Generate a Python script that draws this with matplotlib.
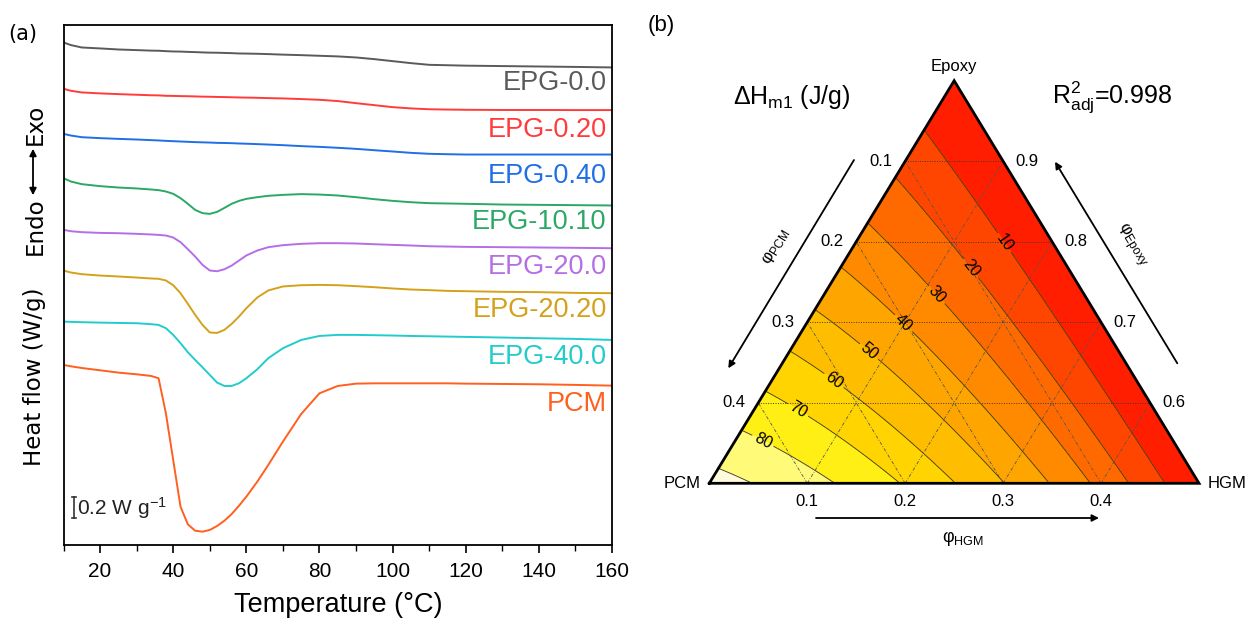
import numpy as np
import matplotlib
matplotlib.use("Agg")
import matplotlib.pyplot as plt
import matplotlib.tri as mtri

plt.rcParams['font.family'] = ['Liberation Sans', 'DejaVu Sans']
plt.rcParams['mathtext.fontset'] = 'custom'
plt.rcParams['mathtext.rm'] = 'Liberation Sans'
plt.rcParams['mathtext.it'] = 'Liberation Sans:italic'

# ---------------- (a) DSC heating curves ----------------
temperature = [10, 12, 15, 20, 25, 30, 34, 36, 38, 40, 42, 44, 46, 48, 50, 52, 54, 56,
               58, 60, 63, 66, 70, 75, 80, 85, 90, 95, 100, 105, 110, 115, 120, 130,
               140, 150, 160]

samples = ['EPG-0.0', 'EPG-0.20', 'EPG-0.40', 'EPG-10.10',
           'EPG-20.0', 'EPG-20.20', 'EPG-40.0', 'PCM']

# heat flow relative to the value at 10 degC (W/g)
hf_epg_0_0 = [0, -0.025, -0.048, -0.057, -0.067, -0.073, -0.078, -0.079, -0.083, -0.086,
              -0.087, -0.090, -0.092, -0.095, -0.097, -0.098, -0.100, -0.102, -0.105,
              -0.106, -0.108, -0.111, -0.116, -0.121, -0.127, -0.133, -0.143, -0.159,
              -0.178, -0.197, -0.213, -0.217, -0.221, -0.225, -0.229, -0.233, -0.238]
hf_epg_0_20 = [0, -0.019, -0.035, -0.044, -0.051, -0.057, -0.062, -0.063, -0.067, -0.068,
               -0.070, -0.071, -0.073, -0.075, -0.076, -0.078, -0.079, -0.081, -0.083,
               -0.084, -0.086, -0.089, -0.092, -0.098, -0.105, -0.117, -0.137, -0.156,
               -0.175, -0.187, -0.195, -0.198, -0.200, -0.202, -0.202, -0.203, -0.203]
hf_epg_0_40 = [0, -0.016, -0.032, -0.041, -0.048, -0.054, -0.060, -0.063, -0.067, -0.070,
               -0.073, -0.076, -0.079, -0.081, -0.083, -0.086, -0.087, -0.089, -0.092,
               -0.094, -0.098, -0.102, -0.108, -0.117, -0.124, -0.133, -0.143, -0.156,
               -0.168, -0.181, -0.190, -0.194, -0.197, -0.197, -0.197, -0.197, -0.197]
hf_epg_10_10 = [0, -0.032, -0.057, -0.076, -0.089, -0.098, -0.108, -0.114, -0.127, -0.149,
                -0.190, -0.244, -0.302, -0.333, -0.340, -0.321, -0.283, -0.244, -0.216,
                -0.197, -0.181, -0.168, -0.159, -0.152, -0.156, -0.165, -0.181, -0.200,
                -0.216, -0.229, -0.238, -0.241, -0.244, -0.251, -0.254, -0.257, -0.260]
hf_epg_20_0 = [0, -0.013, -0.022, -0.029, -0.032, -0.038, -0.044, -0.048, -0.054, -0.073,
               -0.117, -0.184, -0.254, -0.333, -0.387, -0.394, -0.375, -0.340, -0.292,
               -0.244, -0.197, -0.165, -0.146, -0.133, -0.127, -0.127, -0.130, -0.137,
               -0.143, -0.149, -0.156, -0.159, -0.162, -0.165, -0.168, -0.171, -0.175]
hf_epg_20_20 = [0, -0.019, -0.035, -0.048, -0.057, -0.067, -0.076, -0.079, -0.095, -0.140,
                -0.216, -0.317, -0.422, -0.517, -0.590, -0.594, -0.565, -0.508, -0.438,
                -0.359, -0.257, -0.190, -0.152, -0.140, -0.137, -0.140, -0.149, -0.159,
                -0.171, -0.181, -0.187, -0.194, -0.197, -0.203, -0.206, -0.213, -0.216]
hf_epg_40_0 = [0, -0.003, -0.006, -0.010, -0.013, -0.016, -0.025, -0.032, -0.063, -0.127,
               -0.206, -0.292, -0.365, -0.435, -0.508, -0.581, -0.613, -0.613, -0.587,
               -0.540, -0.454, -0.349, -0.254, -0.175, -0.137, -0.127, -0.127, -0.130,
               -0.133, -0.137, -0.140, -0.143, -0.146, -0.152, -0.159, -0.165, -0.175]
hf_pcm = [0, -0.013, -0.029, -0.051, -0.073, -0.089, -0.105, -0.127, -0.460, -0.905,
          -1.349, -1.517, -1.578, -1.587, -1.571, -1.533, -1.483, -1.419, -1.340,
          -1.254, -1.111, -0.952, -0.730, -0.467, -0.270, -0.200, -0.178, -0.175,
          -0.175, -0.175, -0.175, -0.175, -0.178, -0.181, -0.184, -0.190, -0.197]

heat_flows = [hf_epg_0_0, hf_epg_0_20, hf_epg_0_40, hf_epg_10_10,
              hf_epg_20_0, hf_epg_20_20, hf_epg_40_0, hf_pcm]

# vertical stacking of the curves (W/g) and of their labels
curve_offsets = [4.784, 4.343, 3.914, 3.492, 3.000, 2.613, 2.127, 1.714]
label_y = [4.395, 3.946, 3.517, 3.070, 2.651, 2.238, 1.787, 1.343]
curve_colors = ['#5a5a5a', '#ff3b3b', '#1f6fe5', '#2aa866',
                '#b46ee6', '#d4a11a', '#22cccc', '#ff5f1f']

scale_bar = 0.2  # W/g

W, H = 1247, 621
fig = plt.figure(figsize=(W / 100, H / 100), dpi=100)

ax = fig.add_axes([63.5 / W, 1 - 545 / H, (612 - 63.5) / W, (545 - 25) / H])
for name, hf, off, col, ly in zip(samples, heat_flows, curve_offsets, curve_colors, label_y):
    ax.plot(temperature, np.asarray(hf) + off, color=col, lw=1.4)
    ax.text(158.5, ly, name, color=col, fontsize=19.5, ha='right', va='center')

ax.set_xlim(10, 160)
ax.set_ylim(0, 4.95)
ax.set_xticks(np.arange(20, 161, 20))
ax.set_xticks(np.arange(10, 161, 20), minor=True)
ax.set_yticks([])
ax.tick_params(axis='x', which='major', direction='out', length=6, width=1.2,
               labelsize=15, pad=6)
ax.tick_params(axis='x', which='minor', direction='out', length=4, width=1.0)
for sp in ax.spines.values():
    sp.set_linewidth(1.3)
ax.set_xlabel('Temperature (°C)', fontsize=19.5, labelpad=8)

# scale bar
bar_x, bar_y0 = 12.8, 0.255
ax.plot([bar_x, bar_x], [bar_y0, bar_y0 + scale_bar], color='#333333', lw=1.2)
ax.plot([bar_x - 0.6, bar_x + 0.6], [bar_y0, bar_y0], color='#333333', lw=1.2)
ax.plot([bar_x - 0.6, bar_x + 0.6], [bar_y0 + scale_bar] * 2, color='#333333', lw=1.2)
ax.text(bar_x + 0.9, bar_y0 + scale_bar / 2, r'%.1f W g$^{-1}$' % scale_bar,
        fontsize=15, ha='left', va='center', color='#222222')

# y-axis labels
fig.text(35 / W, 1 - 377 / H, 'Heat flow (W/g)', rotation=90, fontsize=16.5,
         family='DejaVu Sans', ha='center', va='center')
fig.text(35 / W, 1 - 226 / H, 'Endo', rotation=90, fontsize=16.5,
         family='DejaVu Sans', ha='center', va='center')
fig.text(35 / W, 1 - 124 / H, 'Exo', rotation=90, fontsize=16.5,
         family='DejaVu Sans', ha='center', va='center')
fig.add_artist(matplotlib.patches.FancyArrowPatch(
    (33 / W, 1 - 198 / H), (33 / W, 1 - 146 / H), transform=fig.transFigure,
    arrowstyle='<|-|>', mutation_scale=10, lw=1.3, color='black'))

fig.text(8 / W, 1 - 34 / H, '(a)', fontsize=15, family='DejaVu Sans',
         ha='left', va='center')

# ---------------- (b) ternary contour of dHm1 ----------------
# Scheffe quadratic in pseudo-components: a = Epoxy (0.5-1), b = PCM (0-0.5), c = HGM (0-0.5)
scheffe_terms = ['a', 'b', 'c', 'ab', 'ac', 'bc']
scheffe_coef = [0.0, 94.0, 0.0, -14.0, 0.0, 53.0]
levels = [0, 10, 20, 30, 40, 50, 60, 70, 80, 90, 100]
band_colors = ['#ff1e00', '#ff4600', '#ff6a00', '#ff8a00', '#ffa500',
               '#ffbd00', '#ffd400', '#ffef14', '#fffa78', '#fffbdc']
labelled_levels = [10, 20, 30, 40, 50, 60, 70, 80]
axis_ticks = [0.1, 0.2, 0.3, 0.4]

hgt = np.sqrt(3) / 2
tx0, tx1, ty_base, ty_top = 709.3, 1199.0, 483.3, 80.7
tax = fig.add_axes([tx0 / W, 1 - ty_base / H, (tx1 - tx0) / W, (ty_base - ty_top) / H])
tax.set_xlim(0, 1)
tax.set_ylim(0, hgt)
tax.axis('off')


def to_xy(a, c):
    return c + a / 2.0, a * hgt


def px_to_data(px, py):
    return (px - tx0) / (tx1 - tx0), (ty_base - py) / (ty_base - ty_top) * hgt


n = 90
aa, cc = [], []
for i in range(n + 1):
    for j in range(n + 1 - i):
        aa.append(i / n)
        cc.append(j / n)
aa, cc = np.array(aa), np.array(cc)
bb = np.clip(1 - aa - cc, 0, 1)
term_vals = [aa, bb, cc, aa * bb, aa * cc, bb * cc]
dh = sum(k * t for k, t in zip(scheffe_coef, term_vals))
X, Y = to_xy(aa, cc)
tri = mtri.Triangulation(X, Y)

tax.tricontourf(tri, dh, levels=levels, colors=band_colors)
cs = tax.tricontour(tri, dh, levels=levels[1:-1], colors='#4a3a10', linewidths=0.65)
label_px = [(1008.3, 240.0), (975.0, 265.0), (940.0, 291.7), (906.7, 320.0),
            (871.7, 348.3), (836.7, 376.7), (800.0, 406.7), (765.0, 436.7)]
tax.clabel(cs, levels=labelled_levels, fmt='%d', fontsize=11.5, colors='black',
           inline=True, inline_spacing=3,
           manual=[px_to_data(*p) for p in label_px])

# composition grid
for v in axis_ticks:
    s = 2 * v
    a_line = 1 - s  # constant epoxy
    x0, y0 = to_xy(a_line, 0)
    x1, y1 = to_xy(a_line, 1 - a_line)
    tax.plot([x0, x1], [y0, y1], ls=(0, (1, 1.5)), color='#3a3a3a', lw=0.7)
    x0, y0 = to_xy(0, s)      # constant HGM
    x1, y1 = to_xy(1 - s, s)
    tax.plot([x0, x1], [y0, y1], ls=(0, (4, 2, 1, 2)), color='#555555', lw=0.6)
    x0, y0 = to_xy(0, 1 - s)  # constant PCM
    x1, y1 = to_xy(1 - s, 0)
    tax.plot([x0, x1], [y0, y1], ls=(0, (4, 2, 1, 2)), color='#555555', lw=0.6)

tax.plot([0, 1, 0.5, 0], [0, 0, hgt, 0], color='black', lw=2, clip_on=False,
         solid_joinstyle='miter')

# tick labels
for v in axis_ticks:
    s = 2 * v
    tax.annotate(f'{v:.1f}', to_xy(1 - s, 0), xytext=(-9, 0), textcoords='offset points',
                 ha='right', va='center', fontsize=12)
    tax.annotate(f'{1 - v:.1f}', to_xy(1 - s, s), xytext=(9, 0), textcoords='offset points',
                 ha='left', va='center', fontsize=12)
    tax.annotate(f'{v:.1f}', to_xy(0, s), xytext=(0, -8), textcoords='offset points',
                 ha='center', va='top', fontsize=12)

tax.annotate('Epoxy', (0.5, hgt), xytext=(0, 10), textcoords='offset points',
             ha='center', va='center', fontsize=12)
tax.annotate('PCM', (0, 0), xytext=(-6, 0), textcoords='offset points',
             ha='right', va='center', fontsize=12)
tax.annotate('HGM', (1, 0), xytext=(6, 0), textcoords='offset points',
             ha='left', va='center', fontsize=12)


def fig_arrow(p0, p1):
    fig.add_artist(matplotlib.patches.FancyArrowPatch(
        (p0[0] / W, 1 - p0[1] / H), (p1[0] / W, 1 - p1[1] / H),
        transform=fig.transFigure, arrowstyle='-|>', mutation_scale=10,
        lw=1.3, color='black', shrinkA=0, shrinkB=0))


fig_arrow((854, 160), (728.3, 368.3))
fig_arrow((1177.3, 363.3), (1055, 161.7))
fig_arrow((816, 518), (1099, 518))

edge_angle = np.degrees(np.arctan2(ty_base - ty_top, 0.5 * (tx1 - tx0)))
fig.text(776 / W, 1 - 247 / H, r'φ$_{\mathrm{PCM}}$', rotation=edge_angle,
         fontsize=12.5, ha='center', va='center', rotation_mode='anchor')
fig.text(1132 / W, 1 - 245 / H, r'φ$_{\mathrm{Epoxy}}$', rotation=-edge_angle,
         fontsize=12.5, ha='center', va='center', rotation_mode='anchor')
fig.text(963 / W, 1 - 539 / H, r'φ$_{\mathrm{HGM}}$', fontsize=13,
         ha='center', va='center')

fig.text(733 / W, 1 - 97 / H, r'ΔH$_{\mathrm{m1}}$ (J/g)', fontsize=18,
         ha='left', va='center')
fig.text(1052 / W, 1 - 97 / H, r'R$^{2}_{\mathrm{adj}}$=0.998', fontsize=18,
         ha='left', va='center')
fig.text(648 / W, 1 - 26 / H, '(b)', fontsize=16, ha='left', va='center')

fig.savefig('out.png', dpi=100)
